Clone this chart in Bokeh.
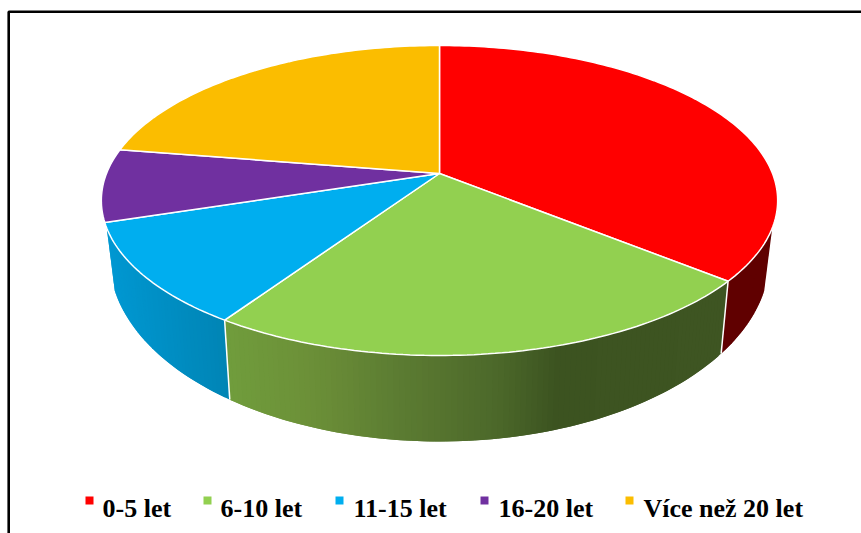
import math
from bokeh.plotting import figure
from bokeh.models import Range1d
from bokeh.core.properties import value
from bokeh.embed import file_html
from bokeh.resources import INLINE

categories = ["0-5 let", "6-10 let", "11-15 let", "16-20 let", "Více než 20 let"]
values = [36.0, 23.3, 10.7, 7.6, 22.4]
colors = ["#FF0000", "#92D050", "#00AEEF", "#7030A0", "#FBBD00"]

# perspective geometry of the disc
CX, APEX_Y, K = 439.0, 173.0, 0.174
TOP_RX, TOP_RY = 333.0, 150.3
BOT_RX, BOT_Y, BOT_RY = 325.0, 225.5, 178.0
WALL_START, WALL_END = 110.0, 250.0


def top(a):
    t = math.radians(a)
    u, v = math.sin(t), -math.cos(t)
    d = 1 - K * v
    return CX + TOP_RX * u / d, APEX_Y + TOP_RY * v / d


def bot(a):
    t = math.radians(a)
    u, v = math.sin(t), -math.cos(t)
    d = 1 - K * v
    return CX + BOT_RX * u / d, BOT_Y + BOT_RY * v / d


def mix(stops, x):
    if x <= stops[0][0]:
        return stops[0][1]
    for (x0, c0), (x1, c1) in zip(stops, stops[1:]):
        if x <= x1:
            f = (x - x0) / (x1 - x0)
            rgb = [round(int(c0[i:i + 2], 16) * (1 - f) + int(c1[i:i + 2], 16) * f) for i in (1, 3, 5)]
            return "#%02x%02x%02x" % tuple(rgb)
    return stops[-1][1]


wall_shades = {
    0: [(0, "#600000"), (900, "#600000")],
    1: [(231, "#709C3C"), (310, "#6C9038"), (400, "#5C7C32"), (500, "#4C682A"), (560, "#3C5320"), (722, "#3E5522")],
    2: [(105, "#0098D2"), (230, "#0084B4")],
}

p = figure(width=861, height=533, output_backend="svg", toolbar_location=None,
           x_range=Range1d(0, 861), y_range=Range1d(533, 0),
           min_border=0, outline_line_color=None, background_fill_color="white")
p.axis.visible = False
p.grid.visible = False

# cumulative angles, clockwise from the back of the disc
angles = [0.0]
for val in values:
    angles.append(angles[-1] + 360.0 * val / sum(values))

# side walls: strips overlap the next one so no seams show
for i, color in enumerate(colors):
    a0, a1 = max(angles[i], WALL_START), min(angles[i + 1], WALL_END)
    if a1 <= a0:
        continue
    n = max(2, int((a1 - a0) * 1.2))
    xs, ys, fills = [], [], []
    for j in range(n):
        s0 = a0 + (a1 - a0) * j / n
        s1 = a0 + (a1 - a0) * min(j + 2, n) / n
        t0, t1, b1, b0 = top(s0), top(s1), bot(s1), bot(s0)
        xs.append([t0[0], t1[0], b1[0], b0[0]])
        ys.append([t0[1], t1[1], b1[1], b0[1]])
        fills.append(mix(wall_shades[i], t0[0]))
    p.patches(xs, ys, fill_color=fills, line_color=None)

# white dividers on the wall
for a in angles[1:3]:
    t, b = top(a), bot(a)
    p.line([t[0], b[0]], [t[1], b[1]], line_color="white", line_width=1.5)

# top faces
xs, ys = [], []
for i in range(len(values)):
    n = max(4, int(angles[i + 1] - angles[i]))
    pts = [top(angles[i] + (angles[i + 1] - angles[i]) * j / n) for j in range(n + 1)]
    xs.append([CX] + [q[0] for q in pts])
    ys.append([APEX_Y] + [q[1] for q in pts])
p.patches(xs, ys, fill_color=colors, line_color="white", line_width=1.5)

# frame around the chart
p.line([8.2, 8.2, 861], [533, 11.3, 11.3], line_color="black", line_width=2.6)

# legend
marker_x = [89, 207, 339, 484, 629]
text_x = [102, 220, 353, 498, 643]
p.rect(marker_x, [500] * 5, width=8, height=8, fill_color=colors, line_color=None)
p.text(text_x, [508] * 5, text=categories, text_font=value("Liberation Serif"),
       text_font_style="bold", text_font_size="26px", text_color="black",
       text_baseline="alphabetic", text_align="left")

open("out.html", "w").write(file_html(p, INLINE))
